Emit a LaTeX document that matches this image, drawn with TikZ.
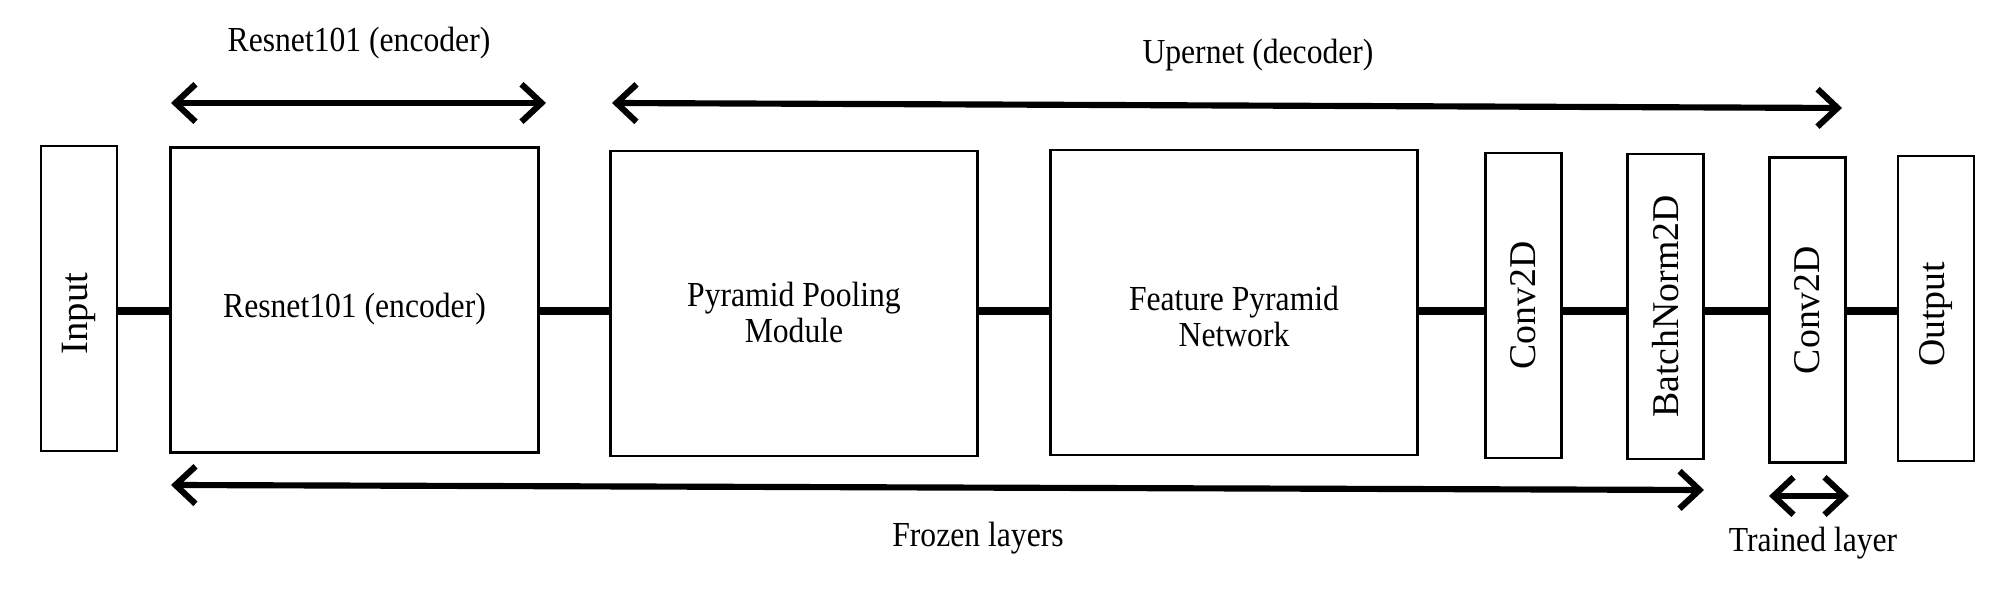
\documentclass[tikz,border=0pt]{standalone}
\usepackage{fontspec}
\setmainfont{Liberation Serif}
\usepackage{graphicx}
\usetikzlibrary{arrows.meta}

\newcommand{\narrowtext}[1]{\scalebox{0.9}[1]{#1}}
\newcommand{\uptext}[1]{\rotatebox{90}{#1}}

\begin{document}
\begin{tikzpicture}[
  font=\fontsize{20}{20}\selectfont,
  block/.style={draw,line width=1.5pt,minimum width=7.35cm,minimum height=6.1cm,inner sep=0pt},
  layer/.style={draw,line width=1.5pt,minimum width=1.52cm,minimum height=6.1cm,inner sep=0pt},
  inside/.style={align=center,yshift=-0.18cm},
  upright/.style={font=\fontsize{21.5}{21.5}\selectfont},
  link/.style={line width=5pt},
  span/.style={line width=3.5pt,{Straight Barb[length=0.4cm,width=0.75cm]}-{Straight Barb[length=0.4cm,width=0.75cm]}}
]
  \useasboundingbox (0,0) rectangle (40.26,11.9);
  % main chain
  \node[layer,label={[upright,yshift=-0.3cm,font=\fontsize{22}{22}\selectfont]center:{\uptext{Input}}}] (in) at (1.58,5.93) {};
  \node[block,label={[inside]center:{\narrowtext{Resnet101 (encoder)}}}] (res) at (7.09,5.90) {};
  \node[block,label={[inside]center:{\narrowtext{Pyramid Pooling}\\\narrowtext{Module}}}] (ppm) at (15.88,5.83) {};
  \node[block,label={[inside,yshift=-0.1cm]center:{\narrowtext{Feature Pyramid}\\\narrowtext{Network}}}] (fpn) at (24.68,5.85) {};
  \node[layer,label={[upright]center:{\uptext{Conv2D}}}] (convA) at (30.47,5.79) {};
  \node[layer,label={[upright]center:{\uptext{BatchNorm2D}}}] (bn) at (33.31,5.77) {};
  \node[layer,label={[upright]center:{\uptext{Conv2D}}}] (convB) at (36.15,5.70) {};
  \node[layer,label={[upright,yshift=-0.12cm]center:{\uptext{Output}}}] (out) at (38.72,5.73) {};
  \coordinate (wire) at (0,5.68);
  \foreach \a/\b in {in/res,res/ppm,ppm/fpn,fpn/convA,convA/bn,bn/convB,convB/out}
    \draw[link] (\a.east |- wire) -- (\b.west |- wire);
  % spans
  \coordinate (encL) at (3.42,9.84);
  \coordinate (encR) at (10.92,9.84);
  \coordinate (decL) at (12.24,9.84);
  \coordinate (decR) at (36.84,9.74);
  \coordinate (frzL) at (3.42,2.20);
  \coordinate (frzR) at (34.08,2.10);
  \coordinate (trnL) at (35.38,1.98);
  \coordinate (trnR) at (36.98,1.98);
  \draw[span] (encL) -- (encR);
  \draw[span] (decL) -- (decR);
  \draw[span] (frzL) -- (frzR);
  \draw[span] (trnL) -- (trnR);
  \node (enclabel) at (7.18,11.04) {\narrowtext{Resnet101 (encoder)}};
  \node (declabel) at (25.16,10.80) {\narrowtext{Upernet (decoder)}};
  \node (frzlabel) at (19.56,1.13) {\narrowtext{Frozen layers}};
  \node (trnlabel) at (36.26,1.03) {\narrowtext{Trained layer}};
\end{tikzpicture}
\end{document}
